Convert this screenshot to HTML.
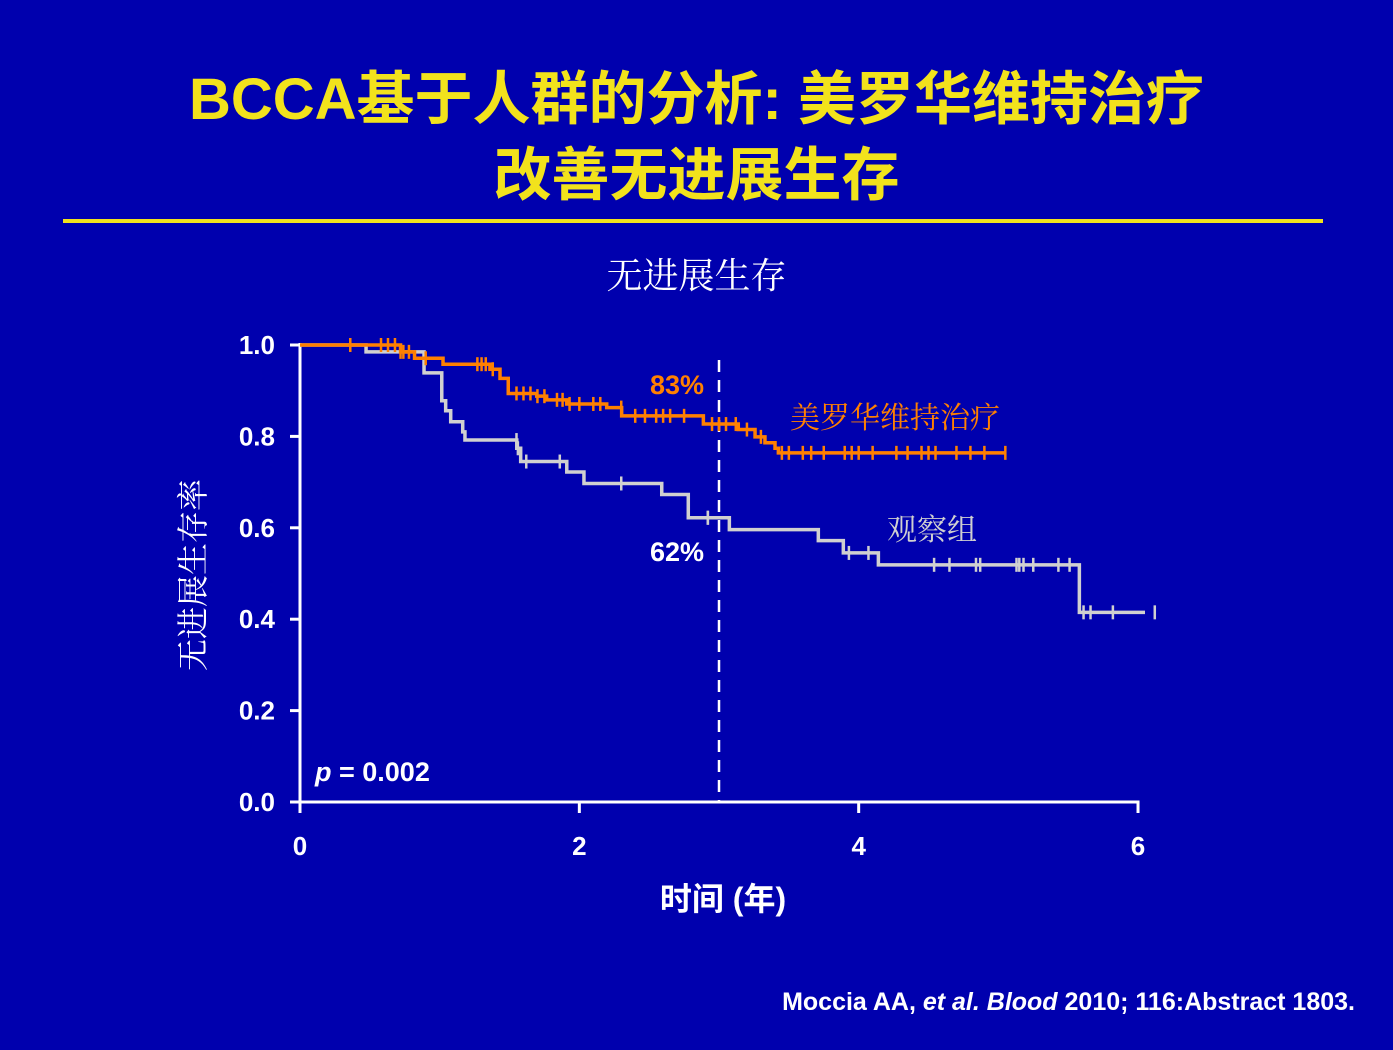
<!DOCTYPE html>
<html><head><meta charset="utf-8"><style>
html,body{margin:0;padding:0;}
body{width:1393px;height:1050px;background:#0000AE;overflow:hidden;position:relative;font-family:"Liberation Sans","Noto Sans CJK SC",sans-serif;}
.t{position:absolute;white-space:nowrap;}
</style></head><body>
<div class="t" style="left:0;width:1393px;text-align:center;top:62px;color:#F2E21C;font-weight:bold;font-size:58px;line-height:76px;">BCCA基于人群的分析: 美罗华维持治疗<br>改善无进展生存</div>
<div style="position:absolute;left:63px;top:219px;width:1260px;height:4px;background:#F2E21C;"></div>
<div class="t" style="left:0;width:1393px;text-align:center;top:248px;color:#fff;font-size:36px;font-family:'Noto Serif CJK SC',serif;">无进展生存</div>
<div class="t" style="right:38px;top:988px;color:#fff;font-weight:bold;font-size:25px;">Moccia AA, <i>et al. Blood</i> 2010; 116:Abstract 1803.</div>
<svg id="chart" width="1393" height="1050" style="position:absolute;left:0;top:0;"></svg>
<script>
const xTicks=[0,2,4,6];
const yTicks=[0.0,0.2,0.4,0.6,0.8,1.0];
const grayT=[0,0.473,0.888,1.015,1.043,1.079,1.165,1.181,1.552,1.580,1.910,2.033,2.590,2.780,3.074,3.711,3.890,4.141,5.580,6.05];
const grayS=[1.0,0.985,0.939,0.878,0.856,0.832,0.810,0.792,0.774,0.745,0.722,0.697,0.673,0.622,0.596,0.572,0.545,0.519,0.415,0.415];
const grayCens=[1.55,1.56,1.62,1.86,2.30,2.92,2.92,3.93,4.07,4.54,4.65,4.84,4.87,5.13,5.15,5.18,5.25,5.43,5.51,5.61,5.66,5.82,6.12];
const orT=[0,0.72,0.82,1.024,1.360,1.432,1.491,1.695,1.766,1.910,2.196,2.303,2.888,3.138,3.258,3.329,3.401,3.425,5.05];
const orS=[1.0,0.985,0.971,0.958,0.947,0.927,0.894,0.888,0.880,0.871,0.863,0.845,0.827,0.815,0.799,0.786,0.774,0.764,0.764];
const orCens=[0.36,0.58,0.63,0.68,0.72,0.74,0.78,0.9,1.27,1.3,1.33,1.38,1.55,1.6,1.65,1.7,1.75,1.84,1.88,1.93,2.0,2.1,2.15,2.3,2.4,2.47,2.55,2.6,2.65,2.75,2.95,3.0,3.05,3.12,3.2,3.3,3.45,3.5,3.6,3.66,3.75,3.9,3.95,4.0,4.1,4.27,4.35,4.45,4.5,4.55,4.7,4.8,4.9,5.05];
const X=t=>300+t*139.67, Y=s=>802-s*457;
const svg=document.getElementById('chart');const NS='http://www.w3.org/2000/svg';
function mk(tag,a){const e=document.createElementNS(NS,tag);for(const k in a)e.setAttribute(k,a[k]);svg.appendChild(e);return e;}
function stepAt(T,S,t){let s=S[0];for(let i=0;i<T.length;i++){if(T[i]<=t)s=S[i];}return s;}
function curve(T,S,C,color,name){
  let d='M'+X(T[0])+','+Y(S[0]);
  for(let i=1;i<T.length;i++){d+=' H'+X(T[i])+' V'+Y(S[i]);}
  const p=mk('path',{d:d,fill:'none',stroke:color,'stroke-width':3.5});
  
  
  C.forEach(t=>{const y=Y(stepAt(T,S,t));const l=mk('line',{x1:X(t),x2:X(t),y1:y-7,y2:y+7,stroke:color,'stroke-width':2.5});
    
    });
}
// axes
let a=mk('line',{x1:300,x2:300,y1:Y(1)-2,y2:803,stroke:'#fff','stroke-width':3});


a=mk('line',{x1:298.5,x2:X(6)+1.5,y1:802,y2:802,stroke:'#fff','stroke-width':3});


yTicks.forEach(v=>{mk('line',{x1:290,x2:300,y1:Y(v),y2:Y(v),stroke:'#fff','stroke-width':3});
  const t=mk('text',{x:275,y:Y(v)+9,fill:'#fff','font-size':26,'font-weight':'bold','text-anchor':'end','font-family':'Liberation Sans'});t.textContent=v.toFixed(1);
  
  });
xTicks.forEach(v=>{mk('line',{x1:X(v),x2:X(v),y1:802,y2:813,stroke:'#fff','stroke-width':3});
  const t=mk('text',{x:X(v),y:855,fill:'#fff','font-size':26,'font-weight':'bold','text-anchor':'middle','font-family':'Liberation Sans'});t.textContent=v;
  
  });
// dashed 3-year line
a=mk('line',{x1:X(3),x2:X(3),y1:360,y2:802,stroke:'#fff','stroke-width':2.5,'stroke-dasharray':'12,8'});


curve(grayT,grayS,grayCens,'#D0D0D0','observation');
curve(orT,orS,orCens,'#FF8000','rituximab');
function txt(x,y,s,o,name){const t=mk('text',Object.assign({x:x,y:y},o));t.textContent=s;return t;}
txt(650,394,'83%',{fill:'#FF8000','font-size':27,'font-weight':'bold','font-family':'Liberation Sans'},'label-83-percent');
txt(650,561,'62%',{fill:'#fff','font-size':27,'font-weight':'bold','font-family':'Liberation Sans'},'label-62-percent');
txt(790,428,'美罗华维持治疗',{fill:'#FF8000','font-size':30,'font-family':'Noto Serif CJK SC, serif'},'legend-rituximab');
txt(887,540,'观察组',{fill:'#D0D0D0','font-size':30,'font-family':'Noto Serif CJK SC, serif'},'legend-observation');
const pv=txt(315,781,'',{fill:'#fff','font-size':27,'font-weight':'bold','font-family':'Liberation Sans'},'p-value');
pv.innerHTML='<tspan font-style="italic">p</tspan> = 0.002';
txt(723,910,'时间 (年)',{fill:'#fff','font-size':32,'font-weight':'bold','text-anchor':'middle','font-family':'Liberation Sans, Noto Sans CJK SC, sans-serif'},'x-axis-title');
txt(0,0,'无进展生存率',{fill:'#fff','font-size':32,'text-anchor':'middle','font-family':'Noto Serif CJK SC, serif',transform:'translate(204,575) rotate(-90)'},'y-axis-title');
</script>
</body></html>
